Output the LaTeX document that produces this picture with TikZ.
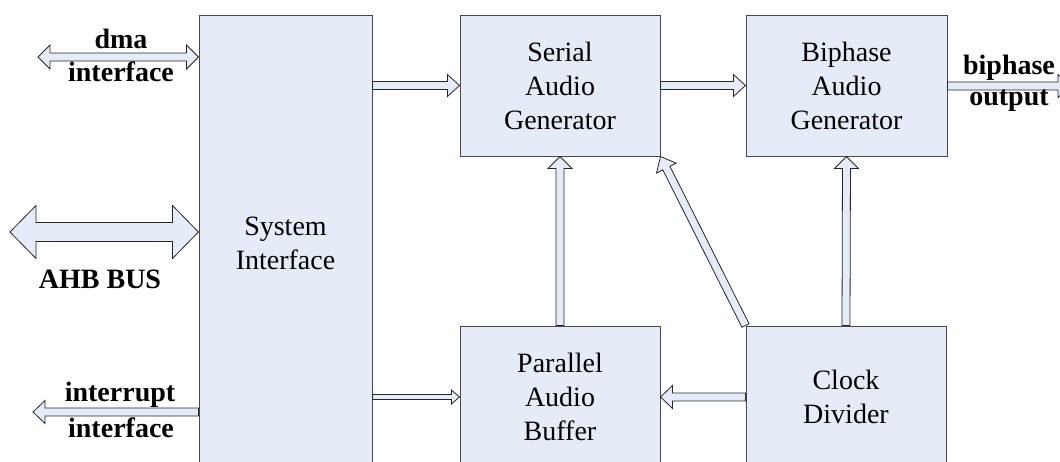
\documentclass[tikz,border=0pt]{standalone}
\usepackage{fontspec}
\setmainfont{Liberation Serif}
\usepackage{xcolor}
\definecolor{block-fill}{HTML}{E6ECF7}
\definecolor{block-line}{HTML}{484848}
\usetikzlibrary{calc}

% hollow arrow: from, to, shaft half width, head half width, head length
\newcommand{\hollowarrow}[5]{%
  \coordinate (ha-s) at (#1);
  \coordinate (ha-t) at (#2);
  \coordinate (ha-h) at ($(ha-t)!#5!(ha-s)$);
  \draw[arrowbody] ($(ha-s)!#3!90:(ha-t)$) -- ($(ha-h)!#3!90:(ha-t)$)
    -- ($(ha-h)!#4!90:(ha-t)$) -- (ha-t) -- ($(ha-h)!#4!-90:(ha-t)$)
    -- ($(ha-h)!#3!-90:(ha-t)$) -- ($(ha-s)!#3!-90:(ha-t)$) -- cycle;
}
% hollow arrow with two heads
\newcommand{\hollowdouble}[5]{%
  \coordinate (ha-s) at (#1);
  \coordinate (ha-t) at (#2);
  \coordinate (ha-hs) at ($(ha-s)!#5!(ha-t)$);
  \coordinate (ha-ht) at ($(ha-t)!#5!(ha-s)$);
  \draw[arrowbody] (ha-s) -- ($(ha-hs)!#4!90:(ha-t)$) -- ($(ha-hs)!#3!90:(ha-t)$)
    -- ($(ha-ht)!#3!90:(ha-t)$) -- ($(ha-ht)!#4!90:(ha-t)$) -- (ha-t)
    -- ($(ha-ht)!#4!-90:(ha-t)$) -- ($(ha-ht)!#3!-90:(ha-t)$)
    -- ($(ha-hs)!#3!-90:(ha-t)$) -- ($(ha-hs)!#4!-90:(ha-t)$) -- cycle;
}

\begin{document}
\begin{tikzpicture}[x=1pt, y=-1pt,
    block/.style={draw=block-line, fill=block-fill, line width=1pt,
      align=center, font=\fontsize{28}{34}\selectfont},
    arrowbody/.style={draw=black!85, fill=block-fill, line width=0.8pt,
      line join=miter},
    lbl/.style={font=\bfseries\fontsize{28}{34}\selectfont, inner sep=0pt}]

    % Page
    \useasboundingbox (0,0) rectangle (1060,461);
    \clip (0,0) rectangle (1060,461);

    % Blocks
    \node[block, minimum width=173pt, minimum height=457pt] (sys) at (285.5,243.5) {System\\Interface};
    \node[block, minimum width=200pt, minimum height=141pt] (ser) at (560,85.5) {Serial\\Audio\\Generator};
    \node[block, minimum width=201pt, minimum height=141pt] (bip) at (846.5,85.5) {Biphase\\Audio\\Generator};
    \node[block, minimum width=200pt, minimum height=142pt] (par) at (560,397) {Parallel\\Audio\\Buffer};
    \node[block, minimum width=200pt, minimum height=142pt] (clk) at (846,397) {Clock\\Divider};

    % Free ends
    \coordinate (dma) at (38,57);
    \coordinate (ahb) at (10,232);
    \coordinate (irq) at (33,412);
    \coordinate (out) at (1070,86);

    % Bus side
    \hollowdouble{dma}{sys.west |- dma}{4pt}{12pt}{12pt}
    \hollowdouble{ahb}{sys.west |- ahb}{9.5pt}{26.5pt}{26pt}
    \hollowarrow{sys.west |- irq}{irq}{4pt}{11.5pt}{12pt}

    % Data path
    \hollowarrow{sys.east |- ser.west}{ser.west}{4pt}{11pt}{12pt}
    \hollowarrow{ser.east}{bip.west}{4pt}{11pt}{12pt}
    \hollowarrow{bip.east |- out}{out}{4pt}{11.5pt}{12pt}
    \hollowarrow{sys.east |- par.west}{par.west}{2.5pt}{7pt}{8pt}
    \hollowarrow{clk.west}{par.east}{4pt}{11.5pt}{12pt}

    % Upward arrows
    \hollowarrow{par.north}{ser.south}{4pt}{12pt}{12pt}
    \hollowarrow{clk.north}{bip.south}{4pt}{12pt}{12pt}
    \hollowarrow{clk.north west}{ser.south east}{4pt}{11pt}{13pt}

    % Labels
    \node[lbl] (dma-a) at (121,39) {dma};
    \node[lbl] (dma-b) at (121,72) {interface};
    \node[lbl] (ahb-a) at (100,279) {AHB BUS};
    \node[lbl] (irq-a) at (120,395) {interrupt};
    \node[lbl] (irq-b) at (121,428) {interface};
    \node[lbl] (out-a) at (1009,68) {biphase};
    \node[lbl] (out-b) at (1009,101) {output};

\end{tikzpicture}
\end{document}
